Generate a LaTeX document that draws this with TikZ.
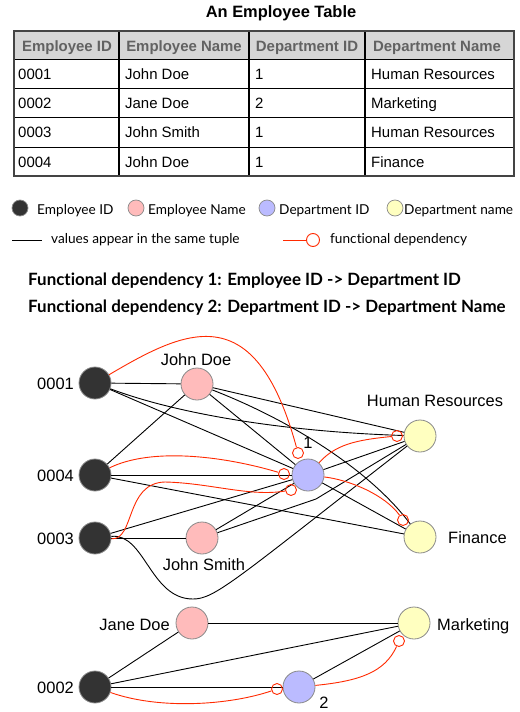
\documentclass[tikz,border=0pt]{standalone}
\usepackage{fontspec}
\setmainfont{Liberation Sans}
\newfontfamily\lgfont[Ligatures=NoCommon]{Lato}
\definecolor{nodedark}{HTML}{333333}
\definecolor{pinkc}{HTML}{FFBBBB}
\definecolor{bluec}{HTML}{BBBBFF}
\definecolor{yellowc}{HTML}{FFFFC0}
\definecolor{fdred}{HTML}{FF2A00}
\definecolor{hdrfill}{HTML}{D6D6D6}
\definecolor{hdrtext}{HTML}{626262}
\definecolor{rim}{HTML}{8A8A8A}
\definecolor{tblborder}{HTML}{444444}
\begin{document}
\begin{tikzpicture}[x=1bp,y=-1bp,
  vnode/.style={circle, draw=rim, line width=0.8bp, minimum size=32bp, inner sep=0pt},
  emp/.style={vnode, fill=nodedark},
  ename/.style={vnode, fill=pinkc},
  did/.style={vnode, fill=bluec},
  dname/.style={vnode, fill=yellowc},
  lbl/.style={font=\fontsize{16.5}{20}\selectfont, inner sep=0pt},
  tup/.style={draw=black, line width=0.9bp},
  fd/.style={draw=fdred, line width=0.9bp},
  fdend/.style={circle, draw=fdred, line width=0.9bp, minimum size=11bp, inner sep=0pt},
  cell/.style={font=\fontsize{15}{18}\selectfont, inner sep=0pt, anchor=base west},
  hcell/.style={font=\fontsize{15}{18}\selectfont\bfseries, text=hdrtext, inner sep=0pt, anchor=base},
  leg/.style={font=\lgfont\fontsize{13.7}{16}\selectfont, inner sep=0pt, anchor=base west},
  legb/.style={font=\lgfont\bfseries\fontsize{17}{20}\selectfont, inner sep=0pt, anchor=base west},
  legdot/.style={circle, draw=rim, line width=0.7bp, minimum size=16bp, inner sep=0pt}
]
\fill[white] (0,0) rectangle (520,712);
\path[use as bounding box] (0,0) rectangle (520,712);

% ---------- title and table ----------
\node[font=\bfseries\fontsize{16.5}{20}\selectfont, anchor=base, inner sep=0pt] (title) at (281,18) {An Employee Table};
\fill[hdrfill] (14,31) rectangle (514,60);
\foreach \yy in {60,89,118,147} \draw[line width=1bp] (14,\yy) -- (514,\yy);
\foreach \xx in {119,249,365} \draw[line width=1.2bp] (\xx,31) -- (\xx,176);
\draw[tblborder, line width=1.8bp] (14,31) rectangle (514,176);

\node[hcell] (h1) at (67,51.5) {Employee ID};
\node[hcell] (h2) at (184,51.5) {Employee Name};
\node[hcell] (h3) at (307,51.5) {Department ID};
\node[hcell] (h4) at (437,51.5) {Department Name};

\node[cell] (r1a) at (18,80) {0001};
\node[cell] (r1b) at (125,80) {John Doe};
\node[cell] (r1c) at (255,80) {1};
\node[cell] (r1d) at (371,80) {Human Resources};
\node[cell] (r2a) at (18,109) {0002};
\node[cell] (r2b) at (125,109) {Jane Doe};
\node[cell] (r2c) at (255,109) {2};
\node[cell] (r2d) at (371,109) {Marketing};
\node[cell] (r3a) at (18,138) {0003};
\node[cell] (r3b) at (125,138) {John Smith};
\node[cell] (r3c) at (255,138) {1};
\node[cell] (r3d) at (371,138) {Human Resources};
\node[cell] (r4a) at (18,167) {0004};
\node[cell] (r4b) at (125,167) {John Doe};
\node[cell] (r4c) at (255,167) {1};
\node[cell] (r4d) at (371,167) {Finance};

% ---------- legend ----------
\node[legdot, fill=nodedark] (k1) at (20,208) {};
\node[leg] (k1t) at (37,214) {Employee ID};
\node[legdot, fill=pinkc] (k2) at (136,208) {};
\node[leg] (k2t) at (148,214) {Employee Name};
\node[legdot, fill=bluec] (k3) at (267,208) {};
\node[leg] (k3t) at (279,214) {Department ID};
\node[legdot, fill=yellowc] (k4) at (395,208) {};
\node[leg] (k4t) at (404,214) {Department name};

\coordinate (ka) at (12,240);
\coordinate (kb) at (42,240);
\draw[tup] (ka) -- (kb);
\node[leg] (k5t) at (51,243) {values appear in the same tuple};
\coordinate (kc) at (283,240);
\node[fdend, minimum size=13bp] (kd) at (313,240) {};
\draw[fd] (kc) -- (kd);
\node[leg] (k6t) at (330,243) {functional dependency};

\node[legb] (fd1) at (28,285) {Functional dependency 1: Employee ID -> Department ID};
\node[legb] (fd2) at (28,312) {Functional dependency 2: Department ID -> Department Name};

% ---------- graph nodes ----------
\node[emp] (e1) at (95,383) {};
\node[ename] (jd) at (197,384) {};
\node[emp] (e4) at (95,475) {};
\node[emp] (e3) at (95,538) {};
\node[ename] (js) at (202,538) {};
\node[did] (d1) at (308,475) {};
\node[dname] (hr) at (420,436) {};
\node[dname] (fin) at (420,537) {};
\node[ename] (jane) at (192,623) {};
\node[dname] (mkt) at (414,623) {};
\node[emp] (e2) at (95,687) {};
\node[did] (d2) at (299,687) {};

\node[lbl, anchor=base east] (l0001) at (74,389) {0001};
\node[lbl, anchor=base] (ljd) at (196,365) {John Doe};
\node[lbl, anchor=base] (lhr) at (435,406) {Human Resources};
\node[lbl, anchor=base] (l1) at (308,448) {1};
\node[lbl, anchor=base east] (l0004) at (74,481) {0004};
\node[lbl, anchor=base east] (l0003) at (74,544) {0003};
\node[lbl, anchor=base west] (lfin) at (448,543) {Finance};
\node[lbl, anchor=base] (ljs) at (204,570) {John Smith};
\node[lbl, anchor=base east] (ljane) at (170,630) {Jane Doe};
\node[lbl, anchor=base west] (lmkt) at (437,630) {Marketing};
\node[lbl, anchor=base east] (l0002) at (74,693) {0002};
\node[lbl, anchor=base] (l2) at (324,708) {2};

% ---------- tuple edges ----------
\draw[tup] (e1) -- (jd);
\draw[tup] (e1) -- (d1);
\draw[tup] (jd) -- (d1);
\draw[tup] (jd) -- (hr);
\draw[tup] (d1) -- (hr);
\draw[tup] (e1) .. controls (180,415) and (290,432) .. (hr);
\draw[tup] (e4) -- (jd);
\draw[tup] (e4) -- (d1);
\draw[tup] (e4) -- (fin);
\draw[tup] (d1) -- (fin);
\draw[tup] (jd) .. controls (290,420) and (370,470) .. (fin);
\draw[tup] (e3) -- (js);
\draw[tup] (e3) -- (d1);
\draw[tup] (js) -- (d1);
\draw[tup] (js) -- (316,499) -- (hr);
\draw[tup] (e3) .. controls (145,533) and (150,599) .. (193,599) .. controls (215,599) and (235,580) .. (hr);
\draw[tup] (e2) -- (jane);
\draw[tup] (e2) -- (d2);
\draw[tup] (e2) -- (mkt);
\draw[tup] (jane) -- (mkt);
\draw[tup] (d2) -- (mkt);

% ---------- functional dependencies ----------
\node[fdend] (c1) at (298,453) {};
\node[fdend] (c4) at (284,474) {};
\node[fdend] (c3) at (291,490) {};
\node[fdend] (chr) at (397,436) {};
\node[fdend] (cfin) at (403,520) {};
\node[fdend] (c2) at (277,689) {};
\node[fdend] (cmkt) at (399,641) {};

\draw[fd] (e1) .. controls (185,330) and (255,295) .. (c1);
\draw[fd] (e4) .. controls (150,448) and (220,455) .. (c4);
\draw[fd] (e3) .. controls (135,540) and (125,483) .. (165,482) .. controls (210,483) and (250,497) .. (c3);
\draw[fd] (d1) .. controls (335,445) and (355,440) .. (chr);
\draw[fd] (d1) .. controls (350,480) and (385,495) .. (cfin);
\draw[fd] (e2) .. controls (160,710) and (230,705) .. (c2);
\draw[fd] (d2) .. controls (360,681) and (385,672) .. (cmkt);
\end{tikzpicture}
\end{document}
